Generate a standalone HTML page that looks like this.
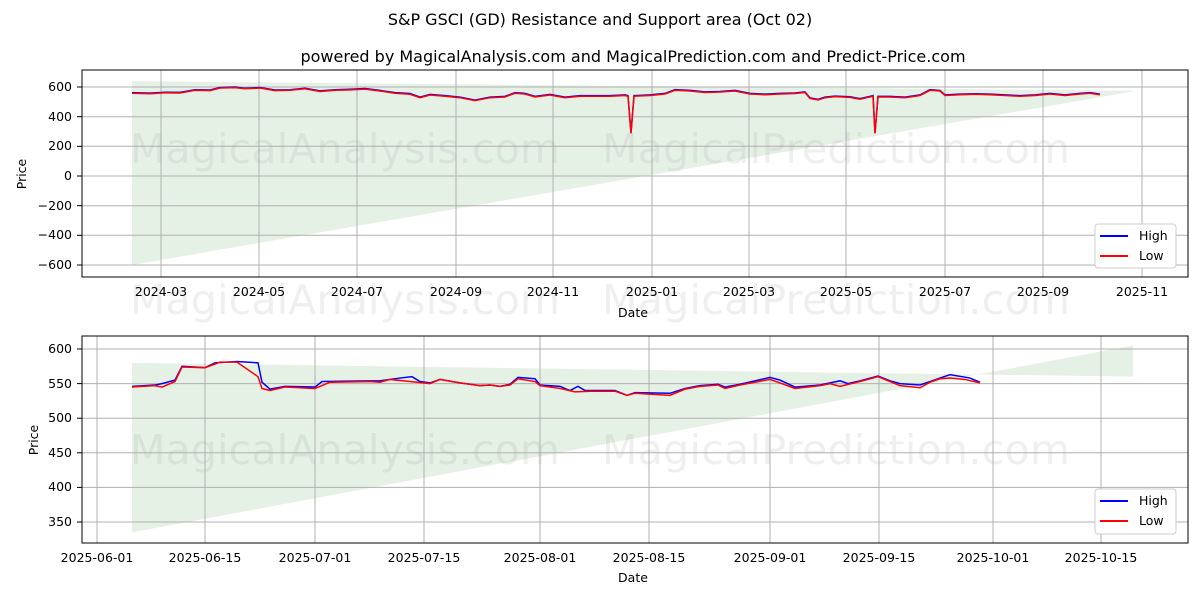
<!DOCTYPE html>
<html><head><meta charset="utf-8"><style>
body{margin:0;background:#fff;}
svg{font-family:"DejaVu Sans","Liberation Sans",sans-serif;}
</style></head><body>
<svg width="1200" height="600" xmlns="http://www.w3.org/2000/svg">
<rect width="1200" height="600" fill="#fff"/>
<text x="600" y="25" font-size="16" text-anchor="middle">S&amp;P GSCI (GD) Resistance and Support area (Oct 02)</text>
<text x="633" y="62" font-size="16" text-anchor="middle">powered by MagicalAnalysis.com and MagicalPrediction.com and Predict-Price.com</text>

<!-- TOP -->
<g transform="matrix(1 0 0 -0.1483 0 176)">
<polygon points="132,640 1133,575 1133,570 132,-600" fill="#2e8b2e" fill-opacity="0.12"/>
</g>
<g stroke="#b0b0b0" stroke-width="1">
<line x1="161" y1="70" x2="161" y2="277"/><line x1="259" y1="70" x2="259" y2="277"/><line x1="357" y1="70" x2="357" y2="277"/><line x1="456" y1="70" x2="456" y2="277"/><line x1="553" y1="70" x2="553" y2="277"/><line x1="652" y1="70" x2="652" y2="277"/><line x1="749" y1="70" x2="749" y2="277"/><line x1="846" y1="70" x2="846" y2="277"/><line x1="945" y1="70" x2="945" y2="277"/><line x1="1043" y1="70" x2="1043" y2="277"/><line x1="1142" y1="70" x2="1142" y2="277"/>
<line x1="82" y1="87" x2="1188" y2="87"/><line x1="82" y1="116.7" x2="1188" y2="116.7"/><line x1="82" y1="146.3" x2="1188" y2="146.3"/><line x1="82" y1="176" x2="1188" y2="176"/><line x1="82" y1="205.7" x2="1188" y2="205.7"/><line x1="82" y1="235.3" x2="1188" y2="235.3"/><line x1="82" y1="265" x2="1188" y2="265"/>
</g>
<g font-size="41" fill="#999" fill-opacity="0.16">
<text x="130" y="163" textLength="430">MagicalAnalysis.com</text><text x="602" y="163" textLength="468">MagicalPrediction.com</text>
<text x="130" y="314" textLength="430">MagicalAnalysis.com</text><text x="602" y="314" textLength="468">MagicalPrediction.com</text>
<text x="130" y="464" textLength="430">MagicalAnalysis.com</text><text x="602" y="464" textLength="468">MagicalPrediction.com</text>
</g>
<g transform="matrix(1 0 0 -0.1483 0 176)" fill="none" stroke-width="1.5">
<polyline vector-effect="non-scaling-stroke" stroke="#0000ff" points="132,562 150,559 165,565 180,564 195,582 210,580 220,597 235,600 245,592 260,597 275,580 290,582 305,592 320,574 335,582 350,585 365,590 380,577 395,562 410,556 420,532 430,550 445,542 460,532 475,512 490,532 505,537 515,562 525,557 535,537 550,550 565,532 580,542 595,542 610,542 625,547 628,542 631,292 634,542 650,547 665,557 675,582 690,577 705,567 720,570 735,577 750,557 765,552 780,557 795,560 805,567 810,527 818,517 825,532 835,539 850,534 860,522 870,537 873,542 875,292 878,537 890,537 905,532 920,547 930,582 940,577 945,547 960,552 975,555 990,552 1005,547 1020,542 1035,547 1050,557 1065,547 1080,557 1090,562 1100,552"/>
<polyline vector-effect="non-scaling-stroke" stroke="#ff0000" points="132,558 150,555 165,561 180,560 195,578 210,576 220,593 235,596 245,588 260,593 275,576 290,578 305,588 320,570 335,578 350,581 365,586 380,573 395,558 410,551 420,528 430,546 445,538 460,528 475,508 490,528 505,533 515,558 525,553 535,533 550,546 565,528 580,538 595,538 610,538 625,543 628,538 631,288 634,538 650,543 665,553 675,578 690,573 705,563 720,566 735,573 750,553 765,548 780,553 795,556 805,563 810,523 818,513 825,528 835,535 850,530 860,518 870,533 873,538 875,288 878,533 890,533 905,528 920,543 930,578 940,573 945,543 960,548 975,551 990,548 1005,543 1020,538 1035,543 1050,553 1065,543 1080,553 1090,558 1100,548"/>
</g>
<rect x="82" y="70" width="1106" height="207" fill="none" stroke="#000" stroke-width="1"/>
<g font-size="12.5" text-anchor="end">
<text x="72" y="91">600</text><text x="72" y="121">400</text><text x="72" y="150">200</text><text x="72" y="180">0</text><text x="72" y="210">−200</text><text x="72" y="239">−400</text><text x="72" y="269">−600</text>
</g>
<g stroke="#000"><line x1="77" x2="82" y1="87" y2="87"/><line x1="77" x2="82" y1="116.7" y2="116.7"/><line x1="77" x2="82" y1="146.3" y2="146.3"/><line x1="77" x2="82" y1="176" y2="176"/><line x1="77" x2="82" y1="205.7" y2="205.7"/><line x1="77" x2="82" y1="235.3" y2="235.3"/><line x1="77" x2="82" y1="265" y2="265"/></g>
<g font-size="12.5" text-anchor="middle">
<text x="161" y="296">2024-03</text><text x="259" y="296">2024-05</text><text x="357" y="296">2024-07</text><text x="456" y="296">2024-09</text><text x="553" y="296">2024-11</text><text x="652" y="296">2025-01</text><text x="749" y="296">2025-03</text><text x="846" y="296">2025-05</text><text x="945" y="296">2025-07</text><text x="1043" y="296">2025-09</text><text x="1142" y="296">2025-11</text>
<text x="633" y="317">Date</text>
</g>
<text x="26" y="174" font-size="12.5" text-anchor="middle" transform="rotate(-90 26 174)">Price</text>
<g>
<rect x="1095" y="224" width="81" height="44" rx="3" fill="#fff" stroke="#ccc"/>
<line x1="1100" x2="1128" y1="236" y2="236" stroke="#0000ff" stroke-width="2"/>
<line x1="1100" x2="1128" y1="256" y2="256" stroke="#ff0000" stroke-width="2"/>
<text x="1139" y="240" font-size="12.5">High</text><text x="1139" y="260" font-size="12.5">Low</text>
</g>

<!-- BOTTOM -->
<g transform="matrix(1 0 0 -0.692 0 764.2)">
<polygon points="132,580 1133,560 1133,605 132,335" fill="#2e8b2e" fill-opacity="0.12"/>
</g>
<g stroke="#b0b0b0" stroke-width="1">
<line x1="97" y1="336" x2="97" y2="543"/><line x1="205" y1="336" x2="205" y2="543"/><line x1="315" y1="336" x2="315" y2="543"/><line x1="424" y1="336" x2="424" y2="543"/><line x1="540" y1="336" x2="540" y2="543"/><line x1="649" y1="336" x2="649" y2="543"/><line x1="770" y1="336" x2="770" y2="543"/><line x1="879" y1="336" x2="879" y2="543"/><line x1="993" y1="336" x2="993" y2="543"/><line x1="1101" y1="336" x2="1101" y2="543"/>
<line x1="82" y1="349" x2="1188" y2="349"/><line x1="82" y1="383.6" x2="1188" y2="383.6"/><line x1="82" y1="418.2" x2="1188" y2="418.2"/><line x1="82" y1="452.8" x2="1188" y2="452.8"/><line x1="82" y1="487.4" x2="1188" y2="487.4"/><line x1="82" y1="522" x2="1188" y2="522"/>
</g>
<g transform="matrix(1 0 0 -0.692 0 764.2)" fill="none" stroke-width="1.5">
<polyline vector-effect="non-scaling-stroke" stroke="#0000ff" points="132,546 155,548 162,550 175,555 182,575 205,573 215,580 237,582 258,580 262,552 270,542 285,546 315,545 322,553 370,554 380,554 400,558 412,560 420,553 430,551 440,556 460,551 470,549 480,547 490,548 500,546 510,549 518,559 535,557 540,548 560,546 570,540 578,546 585,540 615,540 627,533 635,537 670,536 685,543 700,547 718,549 725,545 740,549 770,559 780,555 795,545 820,548 830,551 840,554 848,550 860,554 878,561 890,554 900,550 920,548 930,553 940,558 950,563 970,558 980,552"/>
<polyline vector-effect="non-scaling-stroke" stroke="#ff0000" points="132,545 155,547 162,545 175,553 182,574 205,573 220,581 237,581 258,560 262,543 270,540 285,545 315,543 330,552 370,553 380,552 390,556 410,553 430,550 440,556 460,551 470,549 480,547 490,548 500,546 510,548 518,557 535,553 540,547 560,543 575,538 590,539 615,539 627,533 635,536 670,533 685,542 700,546 718,548 725,543 740,548 770,556 780,551 795,543 820,547 830,550 840,546 860,553 878,560 890,553 900,547 920,544 930,552 940,557 950,558 965,556 980,551"/>
</g>
<rect x="82" y="336" width="1106" height="207" fill="none" stroke="#000" stroke-width="1"/>
<g font-size="12.5" text-anchor="end">
<text x="72" y="353">600</text><text x="72" y="388">550</text><text x="72" y="422">500</text><text x="72" y="457">450</text><text x="72" y="491">400</text><text x="72" y="526">350</text>
</g>
<g stroke="#000"><line x1="77" x2="82" y1="349" y2="349"/><line x1="77" x2="82" y1="383.6" y2="383.6"/><line x1="77" x2="82" y1="418.2" y2="418.2"/><line x1="77" x2="82" y1="452.8" y2="452.8"/><line x1="77" x2="82" y1="487.4" y2="487.4"/><line x1="77" x2="82" y1="522" y2="522"/></g>
<g font-size="12.5" text-anchor="middle">
<text x="97" y="562">2025-06-01</text><text x="205" y="562">2025-06-15</text><text x="315" y="562">2025-07-01</text><text x="424" y="562">2025-07-15</text><text x="540" y="562">2025-08-01</text><text x="649" y="562">2025-08-15</text><text x="770" y="562">2025-09-01</text><text x="879" y="562">2025-09-15</text><text x="993" y="562">2025-10-01</text><text x="1101" y="562">2025-10-15</text>
<text x="633" y="582">Date</text>
</g>
<text x="38" y="440" font-size="12.5" text-anchor="middle" transform="rotate(-90 38 440)">Price</text>
<g>
<rect x="1095" y="489" width="81" height="45" rx="3" fill="#fff" stroke="#ccc"/>
<line x1="1100" x2="1128" y1="501" y2="501" stroke="#0000ff" stroke-width="2"/>
<line x1="1100" x2="1128" y1="521" y2="521" stroke="#ff0000" stroke-width="2"/>
<text x="1139" y="505" font-size="12.5">High</text><text x="1139" y="525" font-size="12.5">Low</text>
</g>
</svg>
</body></html>
